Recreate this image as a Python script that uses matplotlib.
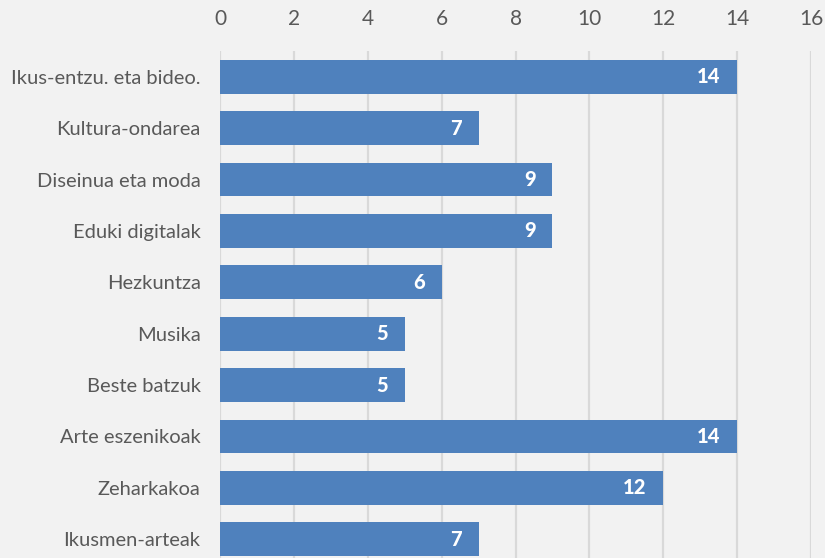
import matplotlib
matplotlib.use("Agg")
import matplotlib.pyplot as plt

categories = [
    "Ikus-entzu. eta bideo.",
    "Kultura-ondarea",
    "Diseinua eta moda",
    "Eduki digitalak",
    "Hezkuntza",
    "Musika",
    "Beste batzuk",
    "Arte eszenikoak",
    "Zeharkakoa",
    "Ikusmen-arteak",
]
values = [14, 7, 9, 9, 6, 5, 5, 14, 12, 7]
x_ticks = [0, 2, 4, 6, 8, 10, 12, 14, 16]

BG = "#F2F2F2"
BAR = "#4F81BD"
TEXT = "#595959"
GRID = "#D9D9D9"

plt.rcParams["font.family"] = ["Lato", "DejaVu Sans"]

fig = plt.figure(figsize=(8.25, 5.58), dpi=100, facecolor=BG)
ax = fig.add_axes([0.2667, -0.0125, 0.7164, 0.921], facecolor=BG)

ypos = list(range(len(categories)))
bars = ax.barh(ypos, values, height=0.66, color=BAR, zorder=3)

for y, v in zip(ypos, values):
    ax.annotate(str(v), xy=(v, y), xytext=(-12, 0), textcoords="offset points",
                ha="right", va="center", color="white", fontsize=14.5,
                fontweight="black", zorder=4)

ax.set_xlim(0, 16)
ax.set_ylim(len(categories) - 0.5, -0.5)
ax.set_xticks(x_ticks)
ax.set_xticklabels([str(t) for t in x_ticks])
ax.set_yticks(ypos)
ax.set_yticklabels(categories)

ax.xaxis.tick_top()
ax.tick_params(axis="x", length=0, pad=16, labelsize=15, labelcolor=TEXT)
ax.tick_params(axis="y", length=0, pad=14, labelsize=14.5, labelcolor=TEXT)

ax.grid(axis="x", color=GRID, linewidth=1.6, zorder=0)
ax.grid(axis="y", visible=False)
for name, sp in ax.spines.items():
    sp.set_visible(False)

fig.savefig("out.png", dpi=100, facecolor=BG)
